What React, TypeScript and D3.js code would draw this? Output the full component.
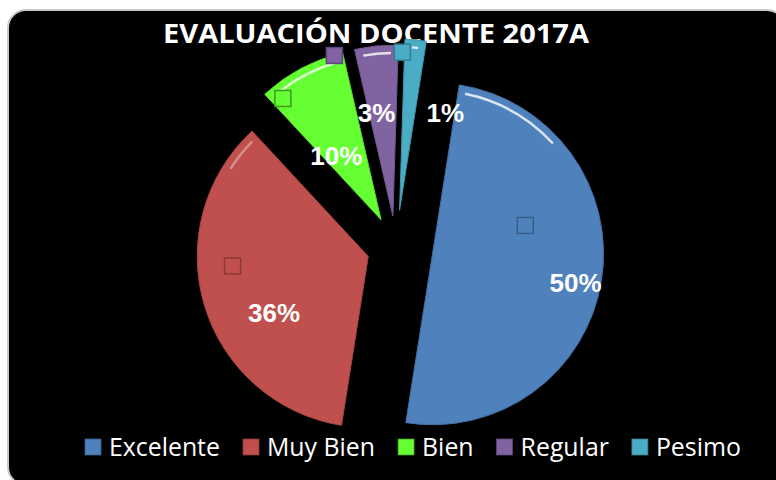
import React, { useEffect, useRef } from 'react';
import * as d3 from 'd3';

// chart data
const categories = ['Excelente', 'Muy Bien', 'Bien', 'Regular', 'Pesimo'];
const values = [50, 35.6, 8.3, 4.1, 2.0];
const labels = ['50%', '36%', '10%', '3%', '1%'];
const colors = ['#4F81BD', '#C0504D', '#66FF33', '#8064A2', '#4BACC6'];
const edgeColors = ['#385D8A', '#8C3836', '#3C9A1E', '#5C4776', '#357D91'];
const title = 'EVALUACIÓN DOCENTE 2017A';

// layout (explosion + label / key placement relative to each slice)
const explode = [37, 29, 32, 32, 38];
const labelPolar: [number, number][] = [[146, 101.5], [110, 239], [78, 325], [105, 351], [108, 25]];
const keyPolar: [number, number][] = [[97, 73], [136, 266], [156, 321], [171, 340], [158, 1]];

const W = 776;
const H = 480;

const App: React.FC = () => {
  const ref = useRef<SVGSVGElement>(null);

  useEffect(() => {
    if (!ref.current) return;
    const svg = d3.select(ref.current);
    svg.selectAll('*').remove();

    const rad = Math.PI / 180;
    const cx = 396, cy = 248, R = 171;

    // frame
    svg.append('rect')
      .attr('x', 8).attr('y', 10)
      .attr('width', 777).attr('height', 475)
      .attr('rx', 18)
      .attr('fill', '#000')
      .attr('stroke', '#c9c9c9')
      .attr('stroke-width', 2);

    const defs = svg.append('defs');
    defs.append('filter').attr('id', 'soft')
      .append('feGaussianBlur').attr('stdDeviation', 0.7);

    // title
    svg.append('text')
      .attr('x', 376).attr('y', 43)
      .attr('text-anchor', 'middle')
      .attr('fill', '#fff')
      .style('font-family', '"Open Sans", sans-serif')
      .style('font-weight', 700)
      .style('font-size', '27px')
      .attr('textLength', 426)
      .attr('lengthAdjust', 'spacingAndGlyphs')
      .text(title);

    const pie = d3.pie<number>()
      .sort(null)
      .startAngle(9 * rad)
      .endAngle(369 * rad);
    const arcs = pie(values);
    const arc = d3.arc<d3.PieArcDatum<number>>().innerRadius(0).outerRadius(R);

    const pol = (r: number, deg: number): [number, number] =>
      [r * Math.sin(deg * rad), -r * Math.cos(deg * rad)];

    const g = svg.append('g').attr('transform', `translate(${cx},${cy})`);

    arcs.forEach((a, i) => {
      const mid = (a.startAngle + a.endAngle) / 2 / rad;
      const [ox, oy] = pol(explode[i], mid);
      const sg = g.append('g').attr('transform', `translate(${ox},${oy})`);

      sg.append('path')
        .attr('d', arc(a) as string)
        .attr('fill', colors[i])
        .attr('stroke', d3.color(colors[i])!.darker(0.4).toString())
        .attr('stroke-width', 1);

      // glossy highlight where the rim faces the light (upper left)
      const s = a.startAngle / rad, e = a.endAngle / rad;
      [[-60, 50], [300, 410]].forEach(([l0, l1]) => {
        const lo = Math.max(s, l0), hi = Math.min(e, l1);
        if (hi - lo <= 4) return;
        const hl = d3.arc()({
          innerRadius: R - 9, outerRadius: R - 6.5,
          startAngle: (lo + 2.5) * rad, endAngle: (hi - 2.5) * rad,
        } as any);
        sg.append('path')
          .attr('d', hl as string)
          .attr('fill', '#fff')
          .attr('opacity', i === 1 ? 0.35 : 0.8)
          .attr('filter', 'url(#soft)');
      });

      // small key squares
      const [kx, ky] = pol(keyPolar[i][0], keyPolar[i][1]);
      sg.append('rect')
        .attr('x', kx - 8).attr('y', ky - 8)
        .attr('width', 16).attr('height', 16)
        .attr('fill', colors[i])
        .attr('stroke', edgeColors[i])
        .attr('stroke-width', 1.5);

      // value label
      const [lx, ly] = pol(labelPolar[i][0], labelPolar[i][1]);
      sg.append('text')
        .attr('x', lx).attr('y', ly)
        .attr('dy', '0.36em')
        .attr('text-anchor', 'middle')
        .attr('fill', '#fff')
        .style('font-family', '"Liberation Sans", Arial, sans-serif')
        .style('font-weight', 700)
        .style('font-size', '26px')
        .text(labels[i]);
    });

    // legend
    const legend = svg.append('g').attr('transform', 'translate(85,439)');
    let x = 0;
    let sx = 1;
    categories.forEach((c, i) => {
      const item = legend.append('g').attr('transform', `translate(${x},0)`);
      item.append('rect')
        .attr('width', 16).attr('height', 16)
        .attr('fill', colors[i])
        .attr('stroke', edgeColors[i])
        .attr('stroke-width', 0.8);
      const t = item.append('text')
        .attr('y', 17)
        .attr('fill', '#fff')
        .style('font-family', '"Open Sans", sans-serif')
        .style('font-size', '26px')
        .text(c);
      const w = (t.node() as SVGTextElement).getComputedTextLength();
      if (i === 0) sx = 111 / w;
      t.attr('transform', `translate(24,0) scale(${sx},1)`);
      x += 24 + w * sx + 23;
    });
  }, []);

  return (
    <svg
      ref={ref}
      width={W}
      height={H}
      style={{ position: 'absolute', left: 0, top: 0, background: '#fff' }}
    />
  );
};

export default App;
